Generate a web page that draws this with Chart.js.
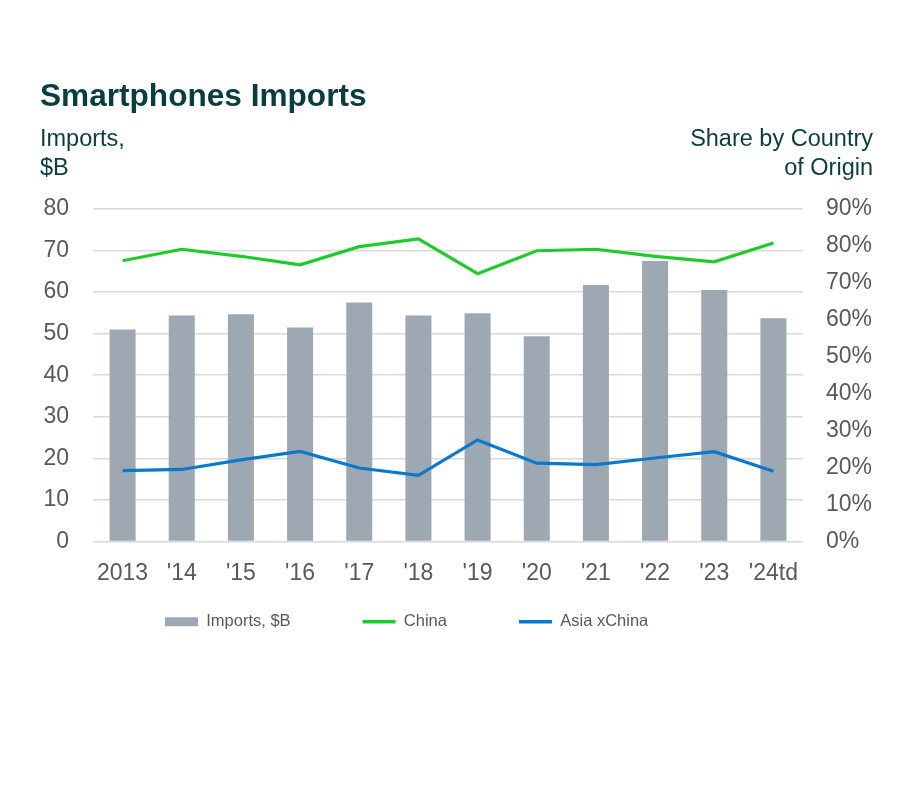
<!DOCTYPE html>
<html>
<head>
<meta charset="utf-8">
<script src="https://cdn.jsdelivr.net/npm/chart.js@4.4.1/dist/chart.umd.min.js"></script>
<style>
  body { margin: 0; background: #fff; font-family: "Liberation Sans", Arial, Helvetica, sans-serif; }
  #wrap { position: relative; width: 916px; height: 804px; }
  #grafica { position: absolute; left: 0; top: 0; }
  .txt { position: absolute; color: #0b3d3e; white-space: nowrap; }
  #titulo { left: 40px; top: 77px; font-size: 31.6px; line-height: 36px; font-weight: bold; }
  #ejeIzq { left: 40px; top: 124px; font-size: 23.5px; line-height: 29px; }
  #ejeDer { right: 43px; top: 124px; font-size: 23.5px; line-height: 29px; text-align: right; }
</style>
</head>
<body>
<div id="wrap">
  <canvas id="grafica" width="916" height="804"></canvas>
  <div class="txt" id="titulo">Smartphones Imports</div>
  <div class="txt" id="ejeIzq">Imports,<br>$B</div>
  <div class="txt" id="ejeDer">Share by Country<br>of Origin</div>
</div>
<script>
// ===============================
// DATOS
// ===============================
const years   = ["2013", "'14", "'15", "'16", "'17", "'18", "'19", "'20", "'21", "'22", "'23", "'24td"];
const imports = [51.0, 54.4, 54.7, 51.5, 57.5, 54.4, 54.9, 49.4, 61.7, 67.5, 60.5, 53.7];   // $B
const china   = [76.0, 79.1, 77.2, 74.9, 79.8, 81.9, 72.5, 78.7, 79.1, 77.2, 75.7, 80.8];   // %
const asiaX   = [19.2, 19.5, 22.1, 24.4, 19.9, 17.9, 27.5, 21.2, 20.8, 22.6, 24.3, 19.0];   // %

const leftMax = 80, leftStep = 10;
const rightMax = 90, rightStep = 10;

const gris = "#595959";
const fuente = "'Liberation Sans', Arial, Helvetica, sans-serif";

const ctx = document.getElementById("grafica").getContext("2d");

new Chart(ctx, {
  data: {
    labels: years,
    datasets: [
      { type: "bar",  label: "Imports, $B", data: imports, yAxisID: "y",
        backgroundColor: "#9ea8b3", barPercentage: 0.44, categoryPercentage: 1, order: 2 },
      { type: "line", label: "China",       data: china,   yAxisID: "y2",
        borderColor: "#1ecb2b", backgroundColor: "#1ecb2b", borderWidth: 3.2, pointRadius: 0, tension: 0, order: 1 },
      { type: "line", label: "Asia xChina", data: asiaX,   yAxisID: "y2",
        borderColor: "#0a78cc", backgroundColor: "#0a78cc", borderWidth: 3.2, pointRadius: 0, tension: 0, order: 1 }
    ]
  },
  options: {
    responsive: false,
    animation: false,
    layout: { padding: { top: 209, left: 0, right: 0, bottom: 164 } },
    plugins: {
      tooltip: { enabled: false },
      legend: {
        position: "bottom",
        align: "start",
        fullSize: false,
        labels: {
          color: gris,
          font: { family: fuente, size: 16.5 },
          usePointStyle: true,
          pointStyleWidth: 33,
          boxHeight: 9,
          padding: 72,
          sort: (a, b) => a.datasetIndex - b.datasetIndex,
          generateLabels: chart => chart.data.datasets.map((d, i) => ({
            text: d.label,
            fillStyle: d.type === "bar" ? d.backgroundColor : d.borderColor,
            strokeStyle: d.type === "bar" ? d.backgroundColor : d.borderColor,
            lineWidth: d.type === "bar" ? 0 : 3.5,
            pointStyle: d.type === "bar" ? "rect" : "line",
            fontColor: gris,
            datasetIndex: i
          }))
        }
      }
    },
    scales: {
      x: {
        grid: { display: false },
        border: { display: false },
        ticks: { color: gris, font: { family: fuente, size: 23 }, padding: -46, mirror: true,
                 maxRotation: 0, autoSkip: false },
        afterFit: s => { s.height = 0; }
      },
      y: {
        position: "left",
        min: 0, max: leftMax,
        ticks: { stepSize: leftStep, color: gris, font: { family: fuente, size: 23 }, padding: 24 },
        grid: { color: "#d9d9d9", lineWidth: 1.6, drawTicks: false },
        border: { display: false },
        afterFit: s => { s.width = 93; }
      },
      y2: {
        position: "right",
        min: 0, max: rightMax,
        ticks: { stepSize: rightStep, color: gris, font: { family: fuente, size: 23 }, padding: 23,
                 callback: v => v + "%" },
        grid: { display: false, drawTicks: false },
        border: { display: false },
        afterFit: s => { s.width = 113; }
      }
    }
  }
});
</script>
</body>
</html>
